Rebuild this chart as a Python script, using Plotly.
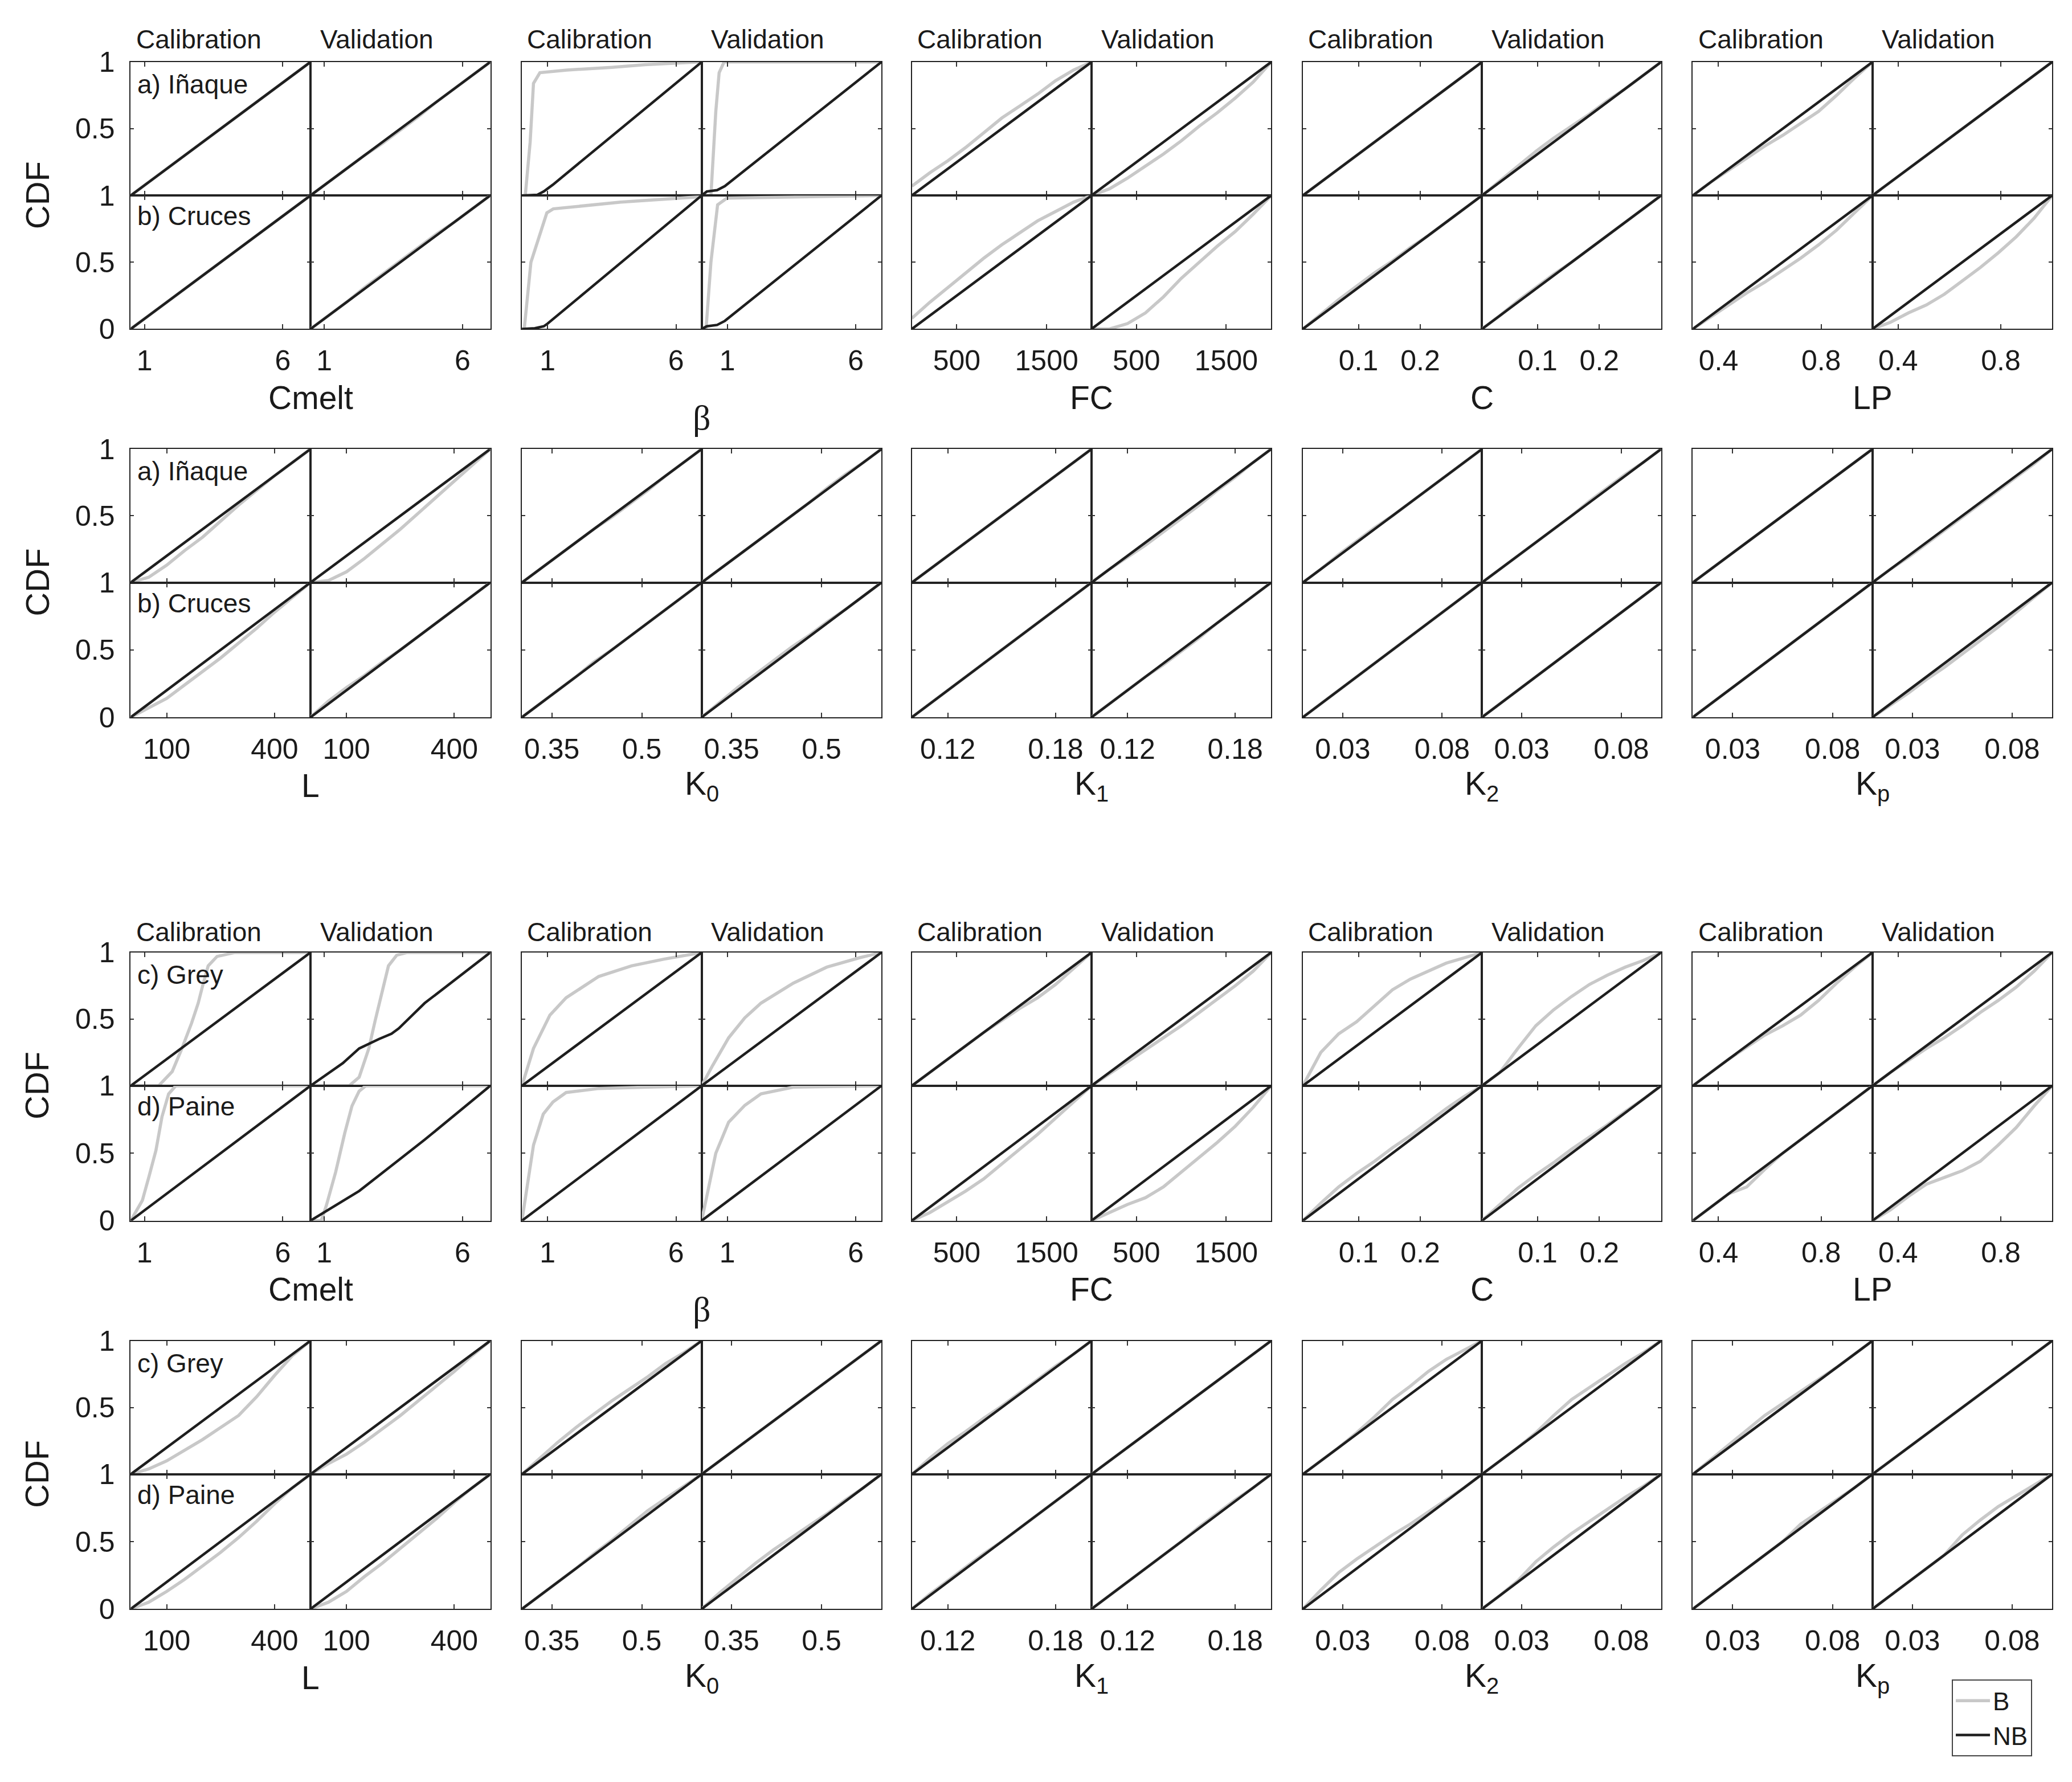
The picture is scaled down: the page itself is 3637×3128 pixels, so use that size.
import plotly.graph_objects as go

cmelt_x = [0.5, 1.15, 1.8, 2.45, 3.1, 3.75, 4.4, 5.05, 5.7, 6.35, 7.0]
beta_x = [0, 0.7, 1.4, 2.1, 2.8, 3.5, 4.2, 4.9, 5.6, 6.3, 7.0]
fc_x = [0, 200, 400, 600, 800, 1000, 1200, 1400, 1600, 1800, 2000]
c_x = [0.01, 0.039, 0.068, 0.097, 0.126, 0.155, 0.184, 0.213, 0.242, 0.271, 0.3]
lp_x = [0.3, 0.37, 0.44, 0.51, 0.58, 0.65, 0.72, 0.79, 0.86, 0.93, 1.0]
l_x = [0, 50, 100, 150, 200, 250, 300, 350, 400, 450, 500]
k0_x = [0.3, 0.33, 0.36, 0.39, 0.42, 0.45, 0.48, 0.51, 0.54, 0.57, 0.6]
k1_x = [0.1, 0.11, 0.12, 0.13, 0.14, 0.15, 0.16, 0.17, 0.18, 0.19, 0.2]
k2_x = [0.01, 0.019, 0.028, 0.037, 0.046, 0.055, 0.064, 0.073, 0.082, 0.091, 0.1]
kp_x = [0.01, 0.019, 0.028, 0.037, 0.046, 0.055, 0.064, 0.073, 0.082, 0.091, 0.1]

# uniform CDF on the grid (NB is this almost everywhere)
diag = [0, 0.1, 0.2, 0.3, 0.4, 0.5, 0.6, 0.7, 0.8, 0.9, 1.0]

# B curves. order in each list: cal top, val top, cal bottom, val bottom
# a plain list = CDF on the parameter grid, a tuple = (x, cdf)
# --- a) Iñaque / b) Cruces ---
b1_cmelt = [diag,
            [0, 0.1, 0.2, 0.3, 0.39, 0.49, 0.59, 0.7, 0.8, 0.9, 1],
            diag,
            [0, 0.1, 0.2, 0.31, 0.41, 0.51, 0.61, 0.71, 0.8, 0.9, 1]]
b1_beta = [([0, 0.13, 0.32, 0.45, 0.7, 1.75, 3.5, 4.8, 6.9, 7.0], [0, 0, 0.4, 0.84, 0.92, 0.94, 0.96, 0.98, 1.0, 1.0]),
           ([0, 0.36, 0.55, 0.68, 0.87, 7.0], [0, 0, 0.63, 0.92, 1.0, 1.0]),
           ([0, 0.09, 0.35, 0.97, 1.22, 3.85, 6.9, 7.0], [0, 0, 0.5, 0.87, 0.9, 0.95, 0.99, 1.0]),
           ([0, 0.17, 0.36, 0.62, 0.98, 6.9, 7.0], [0, 0, 0.5, 0.93, 0.98, 1.0, 1.0])]
b1_fc = [[0.07, 0.17, 0.26, 0.36, 0.47, 0.58, 0.67, 0.76, 0.86, 0.94, 1.0],
         [0, 0.05, 0.13, 0.22, 0.31, 0.41, 0.52, 0.62, 0.73, 0.85, 1.0],
         [0.08, 0.2, 0.31, 0.42, 0.53, 0.63, 0.72, 0.81, 0.88, 0.95, 1.0],
         [0, 0, 0.04, 0.12, 0.24, 0.38, 0.5, 0.62, 0.73, 0.86, 1.0]]
b1_c = [diag,
        [0, 0.11, 0.22, 0.33, 0.43, 0.52, 0.61, 0.71, 0.8, 0.9, 1],
        [0, 0.11, 0.22, 0.32, 0.42, 0.51, 0.61, 0.7, 0.8, 0.9, 1],
        [0, 0.1, 0.21, 0.31, 0.41, 0.5, 0.6, 0.7, 0.8, 0.9, 1]]
b1_lp = [[0, 0.1, 0.19, 0.28, 0.37, 0.45, 0.54, 0.63, 0.75, 0.88, 1],
         diag,
         [0, 0.09, 0.18, 0.27, 0.35, 0.44, 0.53, 0.63, 0.74, 0.87, 1],
         [0, 0.05, 0.12, 0.18, 0.26, 0.36, 0.46, 0.57, 0.69, 0.83, 1]]
b1_l = [[0, 0.04, 0.13, 0.24, 0.34, 0.46, 0.58, 0.69, 0.8, 0.9, 1],
        [0, 0.015, 0.08, 0.18, 0.29, 0.4, 0.52, 0.64, 0.76, 0.88, 1],
        [0, 0.07, 0.14, 0.24, 0.34, 0.44, 0.55, 0.66, 0.78, 0.89, 1],
        [0, 0.12, 0.22, 0.31, 0.41, 0.5, 0.6, 0.7, 0.8, 0.9, 1]]
b1_k0 = [[0, 0.1, 0.2, 0.3, 0.4, 0.49, 0.59, 0.69, 0.8, 0.9, 1],
         [0, 0.1, 0.2, 0.3, 0.4, 0.5, 0.6, 0.71, 0.81, 0.9, 1],
         [0, 0.1, 0.2, 0.3, 0.41, 0.5, 0.6, 0.7, 0.8, 0.9, 1],
         [0, 0.11, 0.22, 0.32, 0.42, 0.52, 0.61, 0.71, 0.8, 0.9, 1]]
b1_k1 = [diag,
         [0, 0.1, 0.19, 0.28, 0.38, 0.48, 0.58, 0.69, 0.79, 0.9, 1],
         diag,
         [0, 0.1, 0.2, 0.3, 0.39, 0.49, 0.59, 0.7, 0.8, 0.9, 1]]
b1_k2 = [[0, 0.1, 0.21, 0.31, 0.41, 0.5, 0.6, 0.7, 0.8, 0.9, 1],
         [0, 0.1, 0.2, 0.3, 0.4, 0.5, 0.61, 0.71, 0.81, 0.9, 1],
         diag,
         diag]
b1_kp = [diag,
         [0, 0.1, 0.19, 0.29, 0.39, 0.49, 0.59, 0.69, 0.79, 0.89, 1],
         diag,
         [0, 0.09, 0.18, 0.28, 0.37, 0.47, 0.57, 0.67, 0.78, 0.89, 1]]

# --- c) Grey / d) Paine ---
b2_cmelt = [([0.5, 1.51, 2.0, 2.35, 2.7, 2.94, 3.1, 3.3, 3.62, 4.27, 7.0], [0, 0, 0.107, 0.28, 0.47, 0.62, 0.75, 0.9, 0.97, 1.0, 1.0]),
            ([0.5, 1.9, 2.26, 2.61, 2.84, 3.1, 3.32, 3.62, 4.0, 7.0], [0, 0, 0.064, 0.28, 0.49, 0.72, 0.9, 0.98, 1.0, 1.0]),
            ([0.5, 0.92, 1.15, 1.41, 1.63, 1.87, 2.13, 7.0], [0, 0.15, 0.32, 0.52, 0.77, 0.94, 1.0, 1.0]),
            ([0.5, 0.89, 1.07, 1.41, 1.74, 2.0, 2.26, 2.5, 7.0], [0, 0, 0.11, 0.36, 0.65, 0.85, 0.96, 1.0, 1.0])]
b2_beta = [([0, 0.45, 1.09, 1.72, 2.99, 4.27, 5.53, 6.8, 7.0], [0, 0.28, 0.53, 0.66, 0.82, 0.9, 0.95, 0.99, 1.0]),
           ([0, 0.42, 1.05, 1.68, 2.31, 3.57, 4.87, 6.14, 7.0], [0, 0.15, 0.36, 0.51, 0.62, 0.77, 0.89, 0.96, 1.0]),
           ([0, 0.19, 0.45, 0.83, 1.21, 1.72, 3.0, 4.9, 7.0], [0, 0.23, 0.56, 0.79, 0.88, 0.95, 0.98, 0.99, 1.0]),
           ([0, 0.29, 0.55, 1.05, 1.68, 2.31, 3.57, 7.0], [0, 0.25, 0.5, 0.73, 0.855, 0.94, 0.99, 1.0])]
b2_fc = [[0, 0.1, 0.2, 0.3, 0.4, 0.49, 0.58, 0.66, 0.76, 0.88, 1],
         [0, 0.09, 0.18, 0.27, 0.36, 0.45, 0.55, 0.65, 0.75, 0.86, 1],
         [0, 0.06, 0.14, 0.22, 0.31, 0.42, 0.53, 0.64, 0.76, 0.88, 1],
         [0, 0.06, 0.12, 0.17, 0.25, 0.36, 0.47, 0.58, 0.7, 0.84, 1]]
b2_c = [[0, 0.25, 0.39, 0.48, 0.6, 0.72, 0.8, 0.86, 0.92, 0.96, 1],
        [0, 0.1, 0.28, 0.45, 0.57, 0.67, 0.76, 0.83, 0.89, 0.94, 1],
        [0, 0.13, 0.25, 0.35, 0.44, 0.54, 0.63, 0.73, 0.83, 0.92, 1],
        [0, 0.12, 0.24, 0.34, 0.43, 0.53, 0.62, 0.71, 0.81, 0.9, 1]]
b2_lp = [[0, 0.1, 0.2, 0.29, 0.38, 0.45, 0.53, 0.64, 0.77, 0.89, 1],
         [0, 0.1, 0.19, 0.28, 0.36, 0.45, 0.55, 0.64, 0.74, 0.86, 1],
         [0, 0.1, 0.2, 0.25, 0.38, 0.5, 0.6, 0.7, 0.8, 0.9, 1],
         [0, 0.08, 0.18, 0.27, 0.32, 0.37, 0.44, 0.56, 0.69, 0.85, 1]]
b2_l = [[0, 0.04, 0.1, 0.18, 0.26, 0.35, 0.44, 0.58, 0.74, 0.89, 1],
        [0, 0.08, 0.15, 0.24, 0.34, 0.44, 0.55, 0.66, 0.77, 0.89, 1],
        [0, 0.05, 0.13, 0.22, 0.32, 0.42, 0.53, 0.65, 0.78, 0.9, 1],
        [0, 0.05, 0.13, 0.24, 0.34, 0.45, 0.56, 0.67, 0.79, 0.9, 1]]
b2_k0 = [[0, 0.12, 0.24, 0.35, 0.45, 0.55, 0.64, 0.73, 0.83, 0.91, 1],
         diag,
         [0, 0.1, 0.2, 0.3, 0.41, 0.51, 0.62, 0.73, 0.82, 0.91, 1],
         [0, 0.12, 0.23, 0.34, 0.44, 0.53, 0.62, 0.71, 0.81, 0.9, 1]]
b2_k1 = [[0, 0.12, 0.23, 0.32, 0.42, 0.51, 0.61, 0.71, 0.81, 0.9, 1],
         diag,
         [0, 0.11, 0.21, 0.31, 0.41, 0.5, 0.6, 0.7, 0.8, 0.9, 1],
         [0, 0.1, 0.2, 0.3, 0.4, 0.5, 0.61, 0.71, 0.81, 0.9, 1]]
b2_k2 = [[0, 0.1, 0.2, 0.31, 0.43, 0.56, 0.66, 0.77, 0.86, 0.93, 1],
         [0, 0.1, 0.2, 0.31, 0.44, 0.56, 0.65, 0.74, 0.83, 0.91, 1],
         [0, 0.14, 0.27, 0.37, 0.46, 0.55, 0.63, 0.72, 0.81, 0.9, 1],
         [0, 0.1, 0.21, 0.35, 0.46, 0.56, 0.65, 0.74, 0.83, 0.91, 1]]
b2_kp = [[0, 0.11, 0.22, 0.33, 0.44, 0.53, 0.62, 0.71, 0.8, 0.9, 1],
         diag,
         [0, 0.1, 0.2, 0.3, 0.4, 0.5, 0.63, 0.72, 0.81, 0.9, 1],
         [0, 0.1, 0.2, 0.3, 0.4, 0.55, 0.66, 0.76, 0.84, 0.92, 1]]

# NB curves that are not straight
nb1_beta = [([0, 0.6, 0.85, 1.2, 7.0], [0, 0.005, 0.03, 0.08, 1.0]),
            ([0, 0.2, 0.6, 0.9, 7.0], [0, 0.03, 0.04, 0.07, 1.0]),
            ([0, 0.5, 0.85, 1.0, 7.0], [0, 0.005, 0.02, 0.04, 1.0]),
            ([0, 0.2, 0.6, 0.9, 7.0], [0, 0.02, 0.03, 0.06, 1.0])]
nb2_cmelt = [diag,
             ([0.5, 1.67, 2.26, 2.97, 3.43, 3.69, 4.63, 5.83, 7.0], [0, 0.17, 0.28, 0.35, 0.39, 0.43, 0.62, 0.81, 1.0]),
             diag,
             ([0.5, 2.26, 4.63, 7.0], [0, 0.22, 0.6, 1.0])]

params = {
    'cmelt': (cmelt_x, [0.5, 7], [1, 6], ['1', '6'], 'Cmelt'),
    'beta': (beta_x, [0, 7], [1, 6], ['1', '6'], 'β'),
    'fc': (fc_x, [0, 2000], [500, 1500], ['500', '1500'], 'FC'),
    'c': (c_x, [0.01, 0.3], [0.1, 0.2], ['0.1', '0.2'], 'C'),
    'lp': (lp_x, [0.3, 1.0], [0.4, 0.8], ['0.4', '0.8'], 'LP'),
    'l': (l_x, [0, 500], [100, 400], ['100', '400'], 'L'),
    'k0': (k0_x, [0.3, 0.6], [0.35, 0.5], ['0.35', '0.5'], 'K<sub>0</sub>'),
    'k1': (k1_x, [0.1, 0.2], [0.12, 0.18], ['0.12', '0.18'], 'K<sub>1</sub>'),
    'k2': (k2_x, [0.01, 0.1], [0.03, 0.08], ['0.03', '0.08'], 'K<sub>2</sub>'),
    'kp': (kp_x, [0.01, 0.1], [0.03, 0.08], ['0.03', '0.08'], 'K<sub>p</sub>'),
}
b_curves = [
    {'cmelt': b1_cmelt, 'beta': b1_beta, 'fc': b1_fc, 'c': b1_c, 'lp': b1_lp,
     'l': b1_l, 'k0': b1_k0, 'k1': b1_k1, 'k2': b1_k2, 'kp': b1_kp},
    {'cmelt': b2_cmelt, 'beta': b2_beta, 'fc': b2_fc, 'c': b2_c, 'lp': b2_lp,
     'l': b2_l, 'k0': b2_k0, 'k1': b2_k1, 'k2': b2_k2, 'kp': b2_kp},
]
nb_special = [{'beta': nb1_beta}, {'cmelt': nb2_cmelt}]
catchments = [['a) Iñaque', 'b) Cruces'], ['c) Grey', 'd) Paine']]
param_rows = [['cmelt', 'beta', 'fc', 'c', 'lp'], ['l', 'k0', 'k1', 'k2', 'kp']]

# layout (paper fractions)
group_x = [(0.0631, 0.2366), (0.2519, 0.4254), (0.4401, 0.6135), (0.6288, 0.8017), (0.8170, 0.9904)]
row_y = [(0.8154, 0.8903, 0.9652), (0.5975, 0.6731, 0.7480),
         (0.3150, 0.3907, 0.4655), (0.0971, 0.1727, 0.2476)]

GREY = '#c8c8c8'
BLACK = '#1e1e1e'
FONT = 'Liberation Sans, Arial, sans-serif'
TXT = '#1a1a1a'


def curve(c, grid):
    if isinstance(c, tuple):
        return c
    return grid, c


fig = go.Figure()
axes = {}
annotations = []


def ann(text, x, y, size, xanchor='center', yanchor='middle', angle=0, family=FONT):
    annotations.append(dict(text=text, x=x, y=y, xref='paper', yref='paper',
                            xanchor=xanchor, yanchor=yanchor, showarrow=False,
                            textangle=angle, font=dict(size=size, color=TXT, family=family)))


n = 0
for s in range(2):
    for pr in range(2):
        r = s * 2 + pr
        y0, ym, y1 = row_y[r]
        ann('CDF', 0.0179, ym, 58, angle=-90)
        for g, key in enumerate(param_rows[pr]):
            grid, rng, tv, tt, title = params[key]
            xl, xr = group_x[g]
            xm = (xl + xr) / 2
            bl = b_curves[s][key]
            nbl = nb_special[s].get(key, [diag] * 4)
            for k in range(4):
                col, row = k % 2, k // 2
                n += 1
                xa = 'xaxis' if n == 1 else 'xaxis%d' % n
                ya = 'yaxis' if n == 1 else 'yaxis%d' % n
                xref = 'x' if n == 1 else 'x%d' % n
                yref = 'y' if n == 1 else 'y%d' % n

                bx, by = curve(bl[k], grid)
                fig.add_trace(go.Scatter(x=bx, y=by, mode='lines', name='B',
                                         line=dict(color=GREY, width=5.5),
                                         showlegend=(n == 1), legendgroup='B',
                                         xaxis=xref, yaxis=yref, hoverinfo='skip'))
                nx, ny = curve(nbl[k], grid)
                fig.add_trace(go.Scatter(x=nx, y=ny, mode='lines', name='NB',
                                         line=dict(color=BLACK, width=4.5),
                                         showlegend=(n == 1), legendgroup='NB',
                                         xaxis=xref, yaxis=yref, hoverinfo='skip'))

                ylab = (g == 0 and col == 0)
                if row == 0:
                    ytv, ytt = [0.5, 1], ['0.5', '1']
                else:
                    ytv, ytt = [0, 0.5, 1], ['0', '0.5', '1']
                xax = dict(domain=[xl, xm] if col == 0 else [xm, xr], range=rng,
                           anchor=yref, tickvals=tv, ticktext=tt,
                           showticklabels=(row == 1), ticks='inside', ticklen=8,
                           tickwidth=2, tickcolor='#333', showline=True, mirror='ticks',
                           linecolor='#222', linewidth=2, showgrid=False, zeroline=False,
                           automargin=False, ticklabelstandoff=11,
                           tickfont=dict(size=50, color=TXT, family=FONT))
                yax = dict(domain=[ym, y1] if row == 0 else [y0, ym], range=[0, 1],
                           anchor=xref, tickvals=ytv if ylab else [0, 0.5, 1],
                           showticklabels=ylab, ticks='inside', ticklen=6,
                           tickwidth=2, tickcolor='#333', showline=True, mirror='ticks',
                           linecolor='#222', linewidth=2, showgrid=False, zeroline=False,
                           automargin=False, ticklabelstandoff=16,
                           tickfont=dict(size=50, color=TXT, family=FONT))
                if ylab:
                    yax['ticktext'] = ytt
                axes[xa] = xax
                axes[ya] = yax

            # headers, axis title and catchment labels
            if pr == 0:
                off = 0.0126 if s == 0 else 0.0115
                ann('Calibration', xl + 0.002, y1 + off, 46, xanchor='left')
                ann('Validation', xm + 0.004, y1 + off, 46, xanchor='left')
            if key == 'beta':
                ann(title, xm, y0 - 0.0496, 62, family='Liberation Serif, Times New Roman, serif')
            else:
                ann(title, xm, y0 - 0.0385, 57)
            if g == 0:
                ann(catchments[s][0], xl + 0.0025, y1 - 0.0125, 46, xanchor='left')
                ann(catchments[s][1], xl + 0.0025, ym - 0.0115, 46, xanchor='left')

fig.update_layout(**axes)
fig.update_layout(
    width=3637, height=3128,
    margin=dict(l=0, r=0, t=0, b=0, autoexpand=False),
    paper_bgcolor='white', plot_bgcolor='white',
    font=dict(family=FONT, color=TXT),
    annotations=annotations,
    showlegend=True,
    legend=dict(x=0.942, y=0.0575, xanchor='left', yanchor='top',
                bgcolor='white', bordercolor='#444', borderwidth=2,
                font=dict(size=44, color=TXT, family=FONT),
                itemwidth=60, tracegroupgap=0),
)

# page body has a default 8px margin, drop it so the figure sits at the corner
fig.write_html('out.html', config={'displayModeBar': False},
               post_script="document.body.style.margin='0px';")
